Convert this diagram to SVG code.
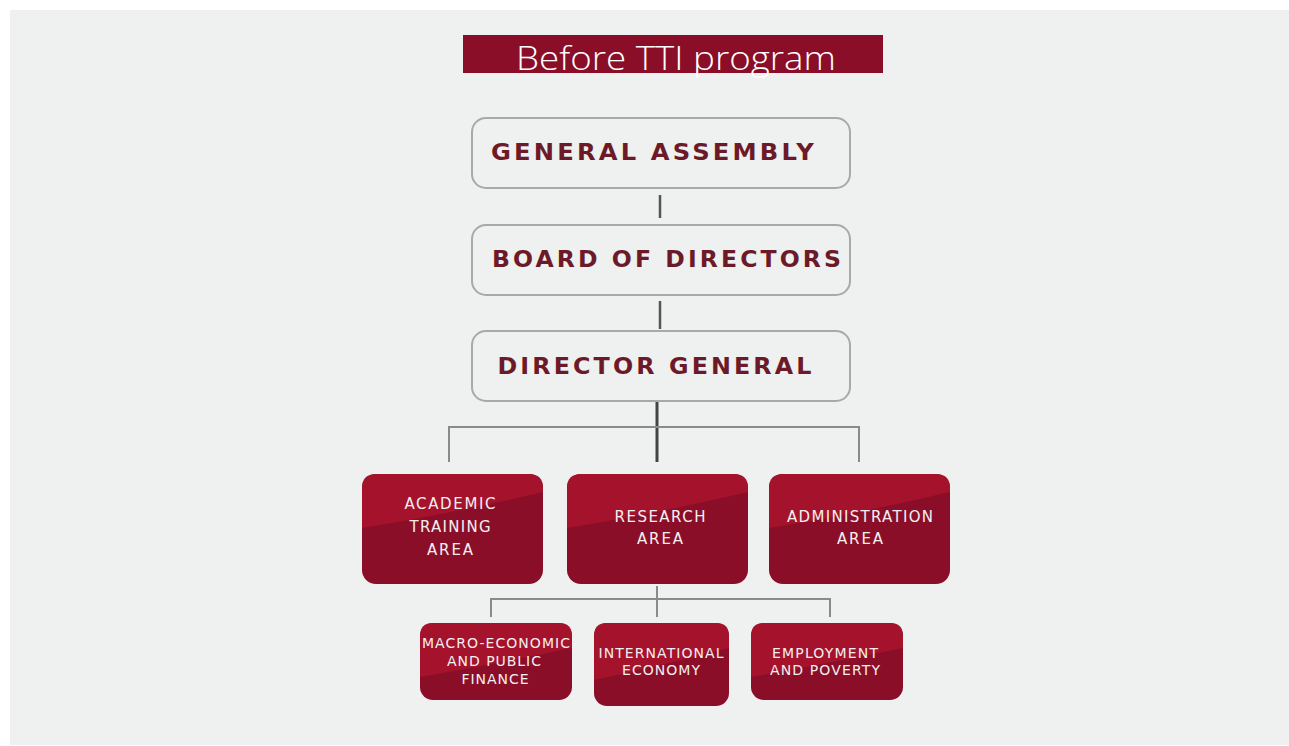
<svg xmlns="http://www.w3.org/2000/svg" width="1289" height="746" viewBox="0 0 1289 746">
<style>
.top{fill:#eff0f0;stroke:#a8a9a9;stroke-width:2}
.tt{font-family:"DejaVu Sans","Liberation Sans",sans-serif;font-weight:700;font-size:23px;letter-spacing:3px;fill:#6c1a28;text-anchor:middle}
.dk{fill:#8b0e28}
.lt{fill:#a5122b}
.wt{font-family:"DejaVu Sans","Liberation Sans",sans-serif;font-size:15px;fill:#f4eef0;text-anchor:middle}
.ws{font-family:"DejaVu Sans","Liberation Sans",sans-serif;font-size:14px;fill:#f4eef0;text-anchor:middle}
.c1{stroke:#555;stroke-width:2.5;fill:none}
.c2{stroke:#8a8a8a;stroke-width:2;fill:none}
</style>
<rect x="0" y="0" width="1289" height="746" fill="#ffffff"/>
<rect x="10" y="10" width="1279" height="735" fill="#eff0f0"/>
<g id="title">
<rect x="463" y="35" width="420" height="38" fill="#8a0e28"/>
<text x="676" y="70" font-family="'Open Sans','Liberation Sans',sans-serif" font-weight="300" font-size="33" fill="#ffffff" text-anchor="middle" textLength="320" lengthAdjust="spacingAndGlyphs">Before TTI program</text>
</g>
<g id="connectors">
<line class="c1" x1="660" y1="195" x2="660" y2="218"/>
<line class="c1" x1="660" y1="301" x2="660" y2="329"/>
<line x1="657" y1="401" x2="657" y2="462" stroke="#444" stroke-width="3"/>
<polyline class="c2" points="449,462 449,427 859,427 859,462"/>
<line class="c2" x1="657" y1="586" x2="657" y2="617"/>
<polyline class="c2" points="491,617 491,599 830,599 830,617"/>
</g>
<g id="general-assembly">
<rect class="top" x="472" y="118" width="378" height="70" rx="14"/>
<text class="tt" x="654" y="160" textLength="326" lengthAdjust="spacingAndGlyphs">GENERAL ASSEMBLY</text>
</g>
<g id="board-of-directors">
<rect class="top" x="472" y="225" width="378" height="70" rx="14"/>
<text class="tt" x="668" y="267" textLength="352" lengthAdjust="spacingAndGlyphs">BOARD OF DIRECTORS</text>
</g>
<g id="director-general">
<rect class="top" x="472" y="331" width="378" height="70" rx="14"/>
<text class="tt" x="656" y="374" textLength="317" lengthAdjust="spacingAndGlyphs">DIRECTOR GENERAL</text>
</g>
<g id="academic-training-area">
<rect class="dk" x="362" y="474" width="181" height="110" rx="14"/>
<path class="lt" d="M362,528 L362,488 Q362,474 376,474 L529,474 Q543,474 543,488 L543,492 Q450,514 362,528 Z"/>
<text class="wt" x="450" y="509" textLength="91" lengthAdjust="spacing">ACADEMIC</text>
<text class="wt" x="450" y="532" textLength="81" lengthAdjust="spacing">TRAINING</text>
<text class="wt" x="450" y="555" textLength="46" lengthAdjust="spacing">AREA</text>
</g>
<g id="research-area">
<rect class="dk" x="567" y="474" width="181" height="110" rx="14"/>
<path class="lt" d="M567,528 L567,488 Q567,474 581,474 L734,474 Q748,474 748,488 L748,492 Q655,514 567,528 Z"/>
<text class="wt" x="660" y="522" textLength="91" lengthAdjust="spacing">RESEARCH</text>
<text class="wt" x="660" y="544" textLength="46" lengthAdjust="spacing">AREA</text>
</g>
<g id="administration-area">
<rect class="dk" x="769" y="474" width="181" height="110" rx="14"/>
<path class="lt" d="M769,528 L769,488 Q769,474 783,474 L936,474 Q950,474 950,488 L950,492 Q857,514 769,528 Z"/>
<text class="wt" x="860" y="522" textLength="146" lengthAdjust="spacing">ADMINISTRATION</text>
<text class="wt" x="860" y="544" textLength="46" lengthAdjust="spacing">AREA</text>
</g>
<g id="macro-economic">
<rect class="dk" x="420" y="623" width="152" height="77" rx="13"/>
<path class="lt" d="M420,677 L420,636 Q420,623 433,623 L559,623 Q572,623 572,636 L572,648 Q495,664 420,677 Z"/>
<text class="ws" x="496" y="648" textLength="148" lengthAdjust="spacing">MACRO-ECONOMIC</text>
<text class="ws" x="494" y="666" textLength="94" lengthAdjust="spacing">AND PUBLIC</text>
<text class="ws" x="495" y="684" textLength="67" lengthAdjust="spacing">FINANCE</text>
</g>
<g id="international-economy">
<rect class="dk" x="594" y="623" width="135" height="83" rx="13"/>
<path class="lt" d="M594,680 L594,636 Q594,623 607,623 L716,623 Q729,623 729,636 L729,648 Q660,666 594,680 Z"/>
<text class="ws" x="661" y="658" textLength="125" lengthAdjust="spacing">INTERNATIONAL</text>
<text class="ws" x="661" y="675" textLength="78" lengthAdjust="spacing">ECONOMY</text>
</g>
<g id="employment-and-poverty">
<rect class="dk" x="751" y="623" width="152" height="77" rx="13"/>
<path class="lt" d="M751,677 L751,636 Q751,623 764,623 L890,623 Q903,623 903,636 L903,648 Q826,664 751,677 Z"/>
<text class="ws" x="825" y="658" textLength="106" lengthAdjust="spacing">EMPLOYMENT</text>
<text class="ws" x="825" y="675" textLength="110" lengthAdjust="spacing">AND POVERTY</text>
</g>
</svg>
